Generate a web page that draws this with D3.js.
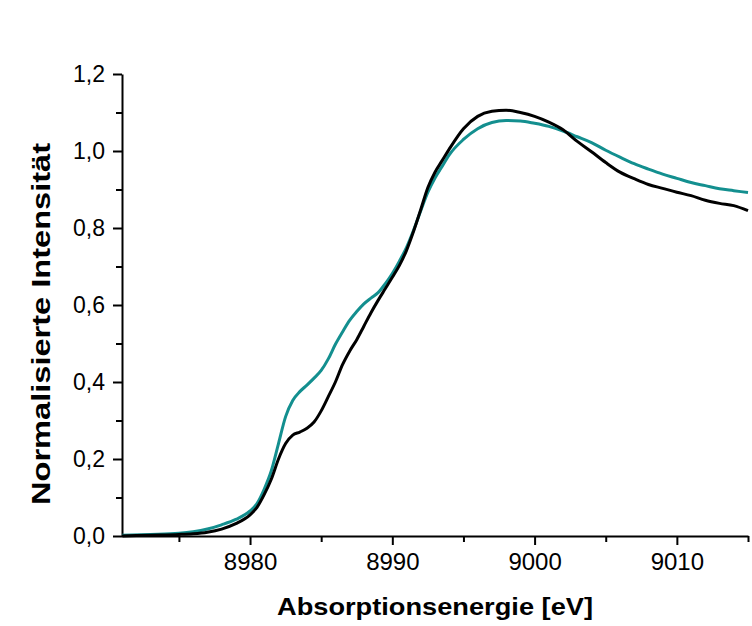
<!DOCTYPE html>
<html>
<head>
<meta charset="utf-8">
<script src="https://cdn.jsdelivr.net/npm/d3@7"></script>
<style>
  body { margin: 0; background: #fff; }
  text { font-family: "Liberation Sans", Arial, sans-serif; }
</style>
</head>
<body>
<div id="chart"></div>
<script>
// energy grid (eV), shared by both spectra
const energie = [8971, 8973, 8975, 8976, 8977, 8978, 8979, 8980, 8980.5, 8981, 8981.5, 8982, 8982.5,
  8983, 8983.5, 8984, 8984.5, 8985, 8985.5, 8986, 8986.5, 8987, 8987.5, 8988, 8988.5, 8989, 8989.5,
  8990, 8990.5, 8991, 8991.5, 8992, 8992.5, 8993, 8993.5, 8994, 8995, 8996, 8997, 8998, 8999, 9000,
  9001, 9002, 9003, 9004, 9005, 9006, 9007, 9008, 9009, 9010, 9011, 9012, 9013, 9014, 9015];

const schwarz = [0.000, 0.002, 0.004, 0.006, 0.010, 0.018, 0.032, 0.055, 0.075, 0.108, 0.148, 0.200, 0.240,
  0.262, 0.270, 0.280, 0.296, 0.325, 0.362, 0.400, 0.445, 0.480, 0.510, 0.545, 0.580, 0.612, 0.642,
  0.672, 0.703, 0.742, 0.792, 0.848, 0.905, 0.945, 0.975, 1.005, 1.058, 1.090, 1.103, 1.106, 1.100, 1.090,
  1.075, 1.055, 1.025, 0.998, 0.970, 0.945, 0.928, 0.913, 0.903, 0.893, 0.884, 0.872, 0.864, 0.858, 0.845];

const tuerkis = [0.002, 0.004, 0.007, 0.011, 0.018, 0.029, 0.043, 0.065, 0.085, 0.122, 0.170, 0.240, 0.310,
  0.352, 0.375, 0.392, 0.410, 0.430, 0.460, 0.498, 0.530, 0.560, 0.583, 0.603, 0.618, 0.632, 0.655,
  0.682, 0.714, 0.750, 0.795, 0.845, 0.893, 0.930, 0.960, 0.990, 1.030, 1.058, 1.074, 1.079, 1.078, 1.072,
  1.064, 1.052, 1.037, 1.022, 1.002, 0.984, 0.967, 0.953, 0.940, 0.929, 0.918, 0.910, 0.902, 0.897, 0.892];

const xTicks = [8980, 8990, 9000, 9010];
const yTicks = [0, 0.2, 0.4, 0.6, 0.8, 1.0, 1.2];

const width = 752, height = 626;
const margin = {top: 74, right: 4, bottom: 90, left: 122};

const svg = d3.select('#chart').append('svg')
  .attr('width', width)
  .attr('height', height);

const x = d3.scaleLinear()
  .domain([8971, 9015])
  .range([margin.left, width - margin.right]);

const y = d3.scaleLinear()
  .domain([0, 1.2])
  .range([height - margin.bottom, margin.top]);

const fmt = d => d3.format('.1f')(d).replace('.', ',');

// minor ticks first
svg.append('g')
  .attr('transform', `translate(0, ${y(0)})`)
  .call(d3.axisBottom(x).tickValues(d3.range(8975, 9016, 10)).tickSize(6).tickFormat(''))
  .call(g => g.select('.domain').remove())
  .call(g => g.selectAll('line').attr('stroke', '#000').attr('stroke-width', 2));

svg.append('g')
  .attr('transform', `translate(${x(8971)}, 0)`)
  .call(d3.axisLeft(y).tickValues(d3.range(0.1, 1.2, 0.2)).tickSize(6).tickFormat(''))
  .call(g => g.select('.domain').remove())
  .call(g => g.selectAll('line').attr('stroke', '#000').attr('stroke-width', 2));

// major axes
svg.append('g')
  .attr('transform', `translate(0, ${y(0)})`)
  .call(d3.axisBottom(x).tickValues(xTicks).tickSize(9).tickSizeOuter(0).tickPadding(8).tickFormat(d3.format('d')))
  .call(g => g.select('.domain').attr('stroke-width', 2))
  .call(g => g.selectAll('line').attr('stroke-width', 2))
  .call(g => g.selectAll('text').style('font-size', '24px').attr('fill', '#000'));

svg.append('g')
  .attr('transform', `translate(${x(8971)}, 0)`)
  .call(d3.axisLeft(y).tickValues(yTicks).tickSize(9).tickSizeOuter(0).tickPadding(8).tickFormat(fmt))
  .call(g => g.select('.domain').attr('stroke-width', 2))
  .call(g => g.selectAll('line').attr('stroke-width', 2))
  .call(g => g.selectAll('text').style('font-size', '23px').attr('fill', '#000'));

// lines
const line = d3.line()
  .x(d => x(d[0]))
  .y(d => y(d[1]))
  .curve(d3.curveMonotoneX);

svg.append('path')
  .datum(d3.zip(energie, tuerkis))
  .attr('fill', 'none')
  .attr('stroke', '#138f8f')
  .attr('stroke-width', 3)
  .attr('d', line);

svg.append('path')
  .datum(d3.zip(energie, schwarz))
  .attr('fill', 'none')
  .attr('stroke', '#000')
  .attr('stroke-width', 3)
  .attr('d', line);

// axis titles
svg.append('text')
  .attr('x', (margin.left + width - margin.right) / 2)
  .attr('y', 615)
  .attr('text-anchor', 'middle')
  .attr('textLength', 316)
  .attr('lengthAdjust', 'spacingAndGlyphs')
  .style('font-size', '24px')
  .style('font-weight', 'bold')
  .text('Absorptionsenergie [eV]');

svg.append('text')
  .attr('transform', 'translate(50, 324) rotate(-90)')
  .attr('text-anchor', 'middle')
  .attr('textLength', 362)
  .attr('lengthAdjust', 'spacingAndGlyphs')
  .style('font-size', '25px')
  .style('font-weight', 'bold')
  .text('Normalisierte Intensität');
</script>
</body>
</html>
